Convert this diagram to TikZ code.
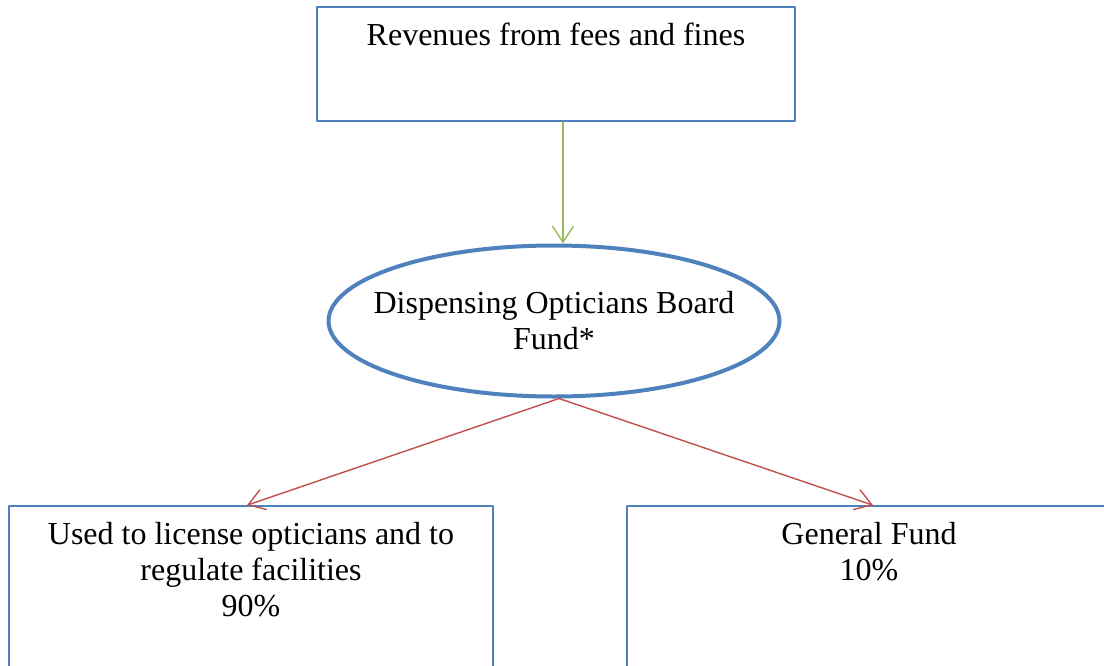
\documentclass[tikz,border=0pt]{standalone}
\usepackage{fontspec}
\setmainfont{Liberation Serif}
\usetikzlibrary{arrows.meta, positioning, shapes.geometric}

\definecolor{boxblue}{HTML}{4F81BD}
\definecolor{feedgreen}{HTML}{9BBB59}
\definecolor{splitred}{HTML}{C0504D}

\begin{document}
\begin{tikzpicture}[x=0.5pt, y=-0.5pt, line cap=round, line join=round,
	font=\fontsize{16}{18}\selectfont]
	
	\tikzset{
		box/.style={draw=boxblue, line width=0.8pt, rectangle, inner sep=0pt, fill=white},
		fund/.style={draw=boxblue, line width=2pt, ellipse, inner xsep=-10.5pt, inner ysep=0pt,
			minimum width=225pt, minimum height=75.5pt, align=center},
		intext/.style={anchor=north, yshift=-8.5pt, inner sep=0pt, align=center},
		feed/.style={draw=feedgreen, line width=0.7pt, -{Straight Barb[length=8pt, width=10.5pt]}},
		split/.style={draw=splitred, line width=0.7pt, -{Straight Barb[length=8pt, width=10.5pt]}}
	}
	
	\useasboundingbox (0,0) rectangle (1104,665);
	\clip (0,0) rectangle (1104,665);
	
	% source and fund
	\node[box, minimum width=239pt, minimum height=57pt,
		label={[intext, yshift=0.5pt]north:Revenues from fees and fines}] (rev) at (556,64) {};
	\node[fund] (dob) at (554,321) {Dispensing Opticians Board\\Fund*};
	
	% where the money goes
	\node[box, minimum width=242pt, minimum height=100pt,
		label={[intext]north:Used to license opticians and to\\regulate facilities\\90\%}] (lic) at (251,606) {};
	\node[box, minimum width=242pt, minimum height=100pt,
		label={[intext]north:General Fund\\10\%}] (gen) at (869,606) {};
	
	\draw[feed] ([xshift=3.5pt]rev.south) -- ([xshift=4.5pt]dob.north);
	\draw[split] ([xshift=2.5pt]dob.south) -- ([xshift=-2pt]lic.north);
	\draw[split] ([xshift=2.5pt]dob.south) -- ([xshift=2pt]gen.north);
	
\end{tikzpicture}
\end{document}
